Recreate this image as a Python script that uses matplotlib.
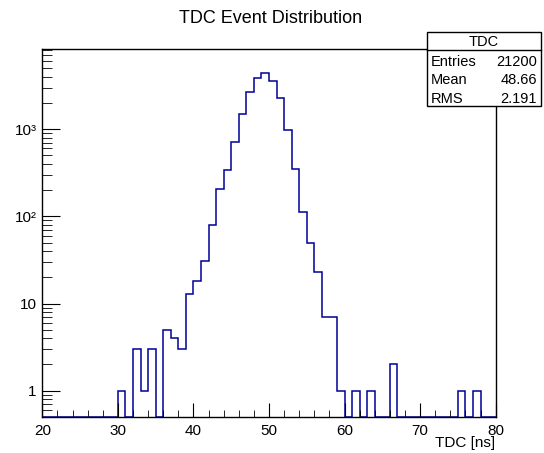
import matplotlib
matplotlib.use("Agg")
import matplotlib.pyplot as plt
import numpy as np
from matplotlib.patches import Rectangle
from matplotlib.ticker import FixedLocator, NullFormatter

plt.rcParams['font.family'] = ['Liberation Sans', 'DejaVu Sans']

# histogram: 1 ns bins from 20 to 80 ns
bin_edges = np.arange(20, 81, 1)
counts = np.zeros(60)
# bin lower edge -> entries
filled = {
    30: 1, 32: 3, 33: 1, 34: 3, 36: 5, 37: 4, 38: 3, 39: 13,
    40: 18, 41: 31, 42: 80, 43: 207, 44: 343, 45: 717, 46: 1489,
    47: 2639, 48: 3880, 49: 4363, 50: 3585, 51: 2290, 52: 969,
    53: 349, 54: 113, 55: 50, 56: 23, 57: 7, 58: 7, 59: 1,
    61: 1, 63: 1, 66: 2, 75: 1, 77: 1,
}
for lo, n in filled.items():
    counts[lo - 20] = n

stat_names = ["Entries", "Mean", "RMS"]
stat_values = ["21200", "48.66", "2.191"]
hist_name = "TDC"

y_low, y_high = 0.5, 8300

fig = plt.figure(figsize=(5.44, 4.53), dpi=100)
ax = fig.add_axes([0.0778, 0.0795, 0.8334, 0.8123])

# empty bins sit on the frame, like ROOT does on a log axis
shown = np.clip(counts, y_low, None)
ax.stairs(shown, bin_edges, baseline=None, color="#000099", linewidth=1.1)

ax.set_yscale("log")
ax.set_xlim(20, 80)
ax.set_ylim(y_low, y_high)

ax.xaxis.set_major_locator(FixedLocator([20, 30, 40, 50, 60, 70, 80]))
ax.xaxis.set_minor_locator(FixedLocator(np.arange(22, 80, 2)))
ax.set_xticklabels(["20", "30", "40", "50", "60", "70", "80"])

y_major = [1, 10, 100, 1000]
ax.yaxis.set_major_locator(FixedLocator(y_major))
y_minor = [m * 10 ** e for e in range(-1, 4) for m in range(2, 10)]
ax.yaxis.set_minor_locator(FixedLocator(y_minor))
ax.set_yticklabels(["1", "10", "10²", "10³"])
ax.yaxis.set_minor_formatter(NullFormatter())

ax.tick_params(which="both", direction="in", top=False, right=False,
               labelsize=11, color="black")
ax.tick_params(axis="x", which="major", length=10, pad=5)
ax.tick_params(axis="x", which="minor", length=5)
ax.tick_params(axis="y", which="major", length=13, pad=4)
ax.tick_params(axis="y", which="minor", length=7)
for sp in ax.spines.values():
    sp.set_linewidth(1.0)

fig.text(0.911, 0.022, "TDC [ns]", ha="right", va="center", fontsize=11)
fig.text(0.498, 0.960, "TDC Event Distribution", ha="center", va="center",
         fontsize=13)

# stats box, top right
bx0, by0, bx1, by1 = 426.7 / 544, 1 - 105.7 / 453, 540.5 / 544, 1 - 32.3 / 453
fig.patches.append(Rectangle((bx0, by0), bx1 - bx0, by1 - by0,
                             transform=fig.transFigure, facecolor="white",
                             edgecolor="black", linewidth=1.0, zorder=5))
head_y = 1 - 50 / 453
fig.add_artist(plt.Line2D([bx0, bx1], [head_y, head_y], color="black",
                          linewidth=1.0, transform=fig.transFigure, zorder=6))
fig.text((bx0 + bx1) / 2, 1 - 41.5 / 453, hist_name, ha="center", va="center",
         fontsize=10.5, zorder=7)
row_y = [62, 80.5, 99]
for name, val, yy in zip(stat_names, stat_values, row_y):
    fig.text(431 / 544, 1 - yy / 453, name, ha="left", va="center",
             fontsize=10.5, zorder=7)
    fig.text(537 / 544, 1 - yy / 453, val, ha="right", va="center",
             fontsize=10.5, zorder=7)

fig.savefig("out.png", dpi=100)
